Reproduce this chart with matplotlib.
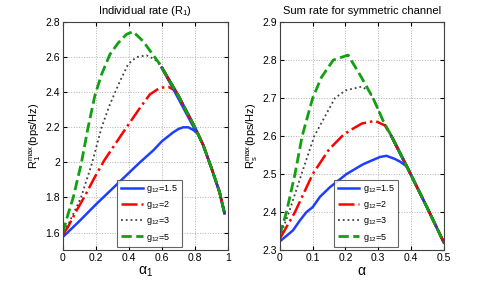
import matplotlib
matplotlib.use("Agg")
import matplotlib.pyplot as plt
from matplotlib.ticker import FuncFormatter

plt.rcParams['font.family'] = ['Liberation Sans', 'DejaVu Sans']
plt.rcParams['mathtext.fontset'] = 'custom'
plt.rcParams['mathtext.rm'] = 'Liberation Sans'
plt.rcParams['mathtext.it'] = 'Liberation Sans'

labels = ['g$_{12}$=1.5', 'g$_{12}$=2', 'g$_{12}$=3', 'g$_{12}$=5']

# ---- left panel: individual rate R1 vs alpha1 ----
# shared descending tail (all curves coincide here)
tail1_x = [0.6, 0.65, 0.7, 0.75, 0.8, 0.85, 0.9, 0.95, 0.98]
tail1_y = [2.54, 2.46, 2.38, 2.29, 2.2, 2.1, 1.97, 1.83, 1.71]

blue1_x = [0, 0.1, 0.2, 0.3, 0.4, 0.467, 0.55, 0.6, 0.667, 0.7, 0.73, 0.76, 0.79, 0.81]
blue1_y = [1.575, 1.665, 1.76, 1.85, 1.94, 2.0, 2.07, 2.12, 2.17, 2.19, 2.2, 2.2, 2.185, 2.17]
red1_x = [0, 0.03, 0.08, 0.14, 0.19, 0.25, 0.3, 0.35, 0.386, 0.467, 0.527, 0.588, 0.64, 0.68]
red1_y = [1.59, 1.63, 1.72, 1.82, 1.91, 2.01, 2.08, 2.15, 2.2, 2.31, 2.387, 2.425, 2.43, 2.41]
gray1_x = [0, 0.035, 0.07, 0.11, 0.175, 0.235, 0.285, 0.345, 0.396, 0.446, 0.507, 0.557, 0.58]
gray1_y = [1.61, 1.65, 1.72, 1.8, 1.99, 2.2, 2.33, 2.46, 2.56, 2.6, 2.61, 2.587, 2.565]
green1_x = [0, 0.03, 0.063, 0.113, 0.153, 0.194, 0.234, 0.285, 0.335, 0.386, 0.426, 0.487, 0.537, 0.588]
green1_y = [1.6, 1.7, 1.8, 2.0, 2.2, 2.38, 2.5, 2.615, 2.68, 2.73, 2.745, 2.69, 2.625, 2.56]

# ---- right panel: sum rate vs alpha ----
tail2_x = [0.34, 0.387, 0.45, 0.5]
tail2_y = [2.6, 2.52, 2.41, 2.32]

blue2_x = [0, 0.04, 0.061, 0.081, 0.1, 0.122, 0.152, 0.203, 0.254, 0.305, 0.325, 0.35, 0.366, 0.387]
blue2_y = [2.323, 2.352, 2.378, 2.4, 2.413, 2.44, 2.465, 2.5, 2.526, 2.545, 2.548, 2.54, 2.533, 2.52]
red2_x = [0, 0.046, 0.1, 0.15, 0.19, 0.21, 0.25, 0.29, 0.32]
red2_y = [2.33, 2.4, 2.5, 2.565, 2.6, 2.613, 2.633, 2.64, 2.628]
gray2_x = [0, 0.028, 0.066, 0.105, 0.168, 0.2, 0.249, 0.27, 0.284, 0.315]
gray2_y = [2.335, 2.4, 2.5, 2.6, 2.7, 2.72, 2.73, 2.72, 2.7, 2.64]
green2_x = [0, 0.02, 0.046, 0.068, 0.1, 0.127, 0.163, 0.208, 0.249, 0.284, 0.315]
green2_y = [2.34, 2.4, 2.5, 2.6, 2.7, 2.755, 2.8, 2.813, 2.754, 2.7, 2.64]

styles = [dict(color='#1f3fff', ls='-', lw=1.8),
          dict(color='#ff0000', ls='-.', lw=1.8),
          dict(color='#404040', ls=':', lw=1.3),
          dict(color='#10a010', ls='--', lw=2.0)]

fig = plt.figure(figsize=(4.91, 2.82), dpi=100)
ax1 = fig.add_axes([0.128, 0.113, 0.336, 0.809])
ax2 = fig.add_axes([0.570, 0.113, 0.334, 0.809])

def fmt(v, pos):
    return '%g' % round(v, 2)

left_series = [(blue1_x, blue1_y), (red1_x, red1_y), (gray1_x, gray1_y), (green1_x, green1_y)]
for (xs, ys), st, lab in zip(left_series, styles, labels):
    ax1.plot(xs + tail1_x, ys + tail1_y, label=lab, **st)
# redraw the common tail so it looks like the overlapping colours
for st in styles:
    ax1.plot(tail1_x, tail1_y, **st)

right_series = [(blue2_x, blue2_y), (red2_x, red2_y), (gray2_x, gray2_y), (green2_x, green2_y)]
for (xs, ys), st, lab in zip(right_series, styles, labels):
    ax2.plot(xs + tail2_x, ys + tail2_y, label=lab, **st)
for st in styles:
    ax2.plot(tail2_x, tail2_y, **st)

ax1.set_xlim(0, 1)
ax1.set_ylim(1.5, 2.8)
ax1.set_xticks([0, 0.2, 0.4, 0.6, 0.8, 1])
ax1.set_yticks([1.6, 1.8, 2.0, 2.2, 2.4, 2.6, 2.8])
ax1.set_title('Individual rate (R$_1$)', fontsize=8)
ax1.set_xlabel(r'$\alpha_1$', fontsize=10, labelpad=1)
ax1.set_ylabel(r'R$_1^{\max}$(bps/Hz)', fontsize=8, labelpad=2)

ax2.set_xlim(0, 0.5)
ax2.set_ylim(2.3, 2.9)
ax2.set_xticks([0, 0.1, 0.2, 0.3, 0.4, 0.5])
ax2.set_yticks([2.3, 2.4, 2.5, 2.6, 2.7, 2.8, 2.9])
ax2.set_title('Sum rate for symmetric channel', fontsize=8)
ax2.set_xlabel(r'$\alpha$', fontsize=10, labelpad=1)
ax2.set_ylabel(r'R$_s^{\max}$(bps/Hz)', fontsize=8, labelpad=2)

for ax in (ax1, ax2):
    ax.xaxis.set_major_formatter(FuncFormatter(fmt))
    ax.yaxis.set_major_formatter(FuncFormatter(fmt))
    ax.grid(True, ls=':', color='#b0b0b0', lw=0.7)
    ax.tick_params(direction='in', top=True, right=True, labelsize=7.5, length=3, pad=2)
    for sp in ax.spines.values():
        sp.set_color('#404040')
        sp.set_linewidth(0.8)
    leg = ax.legend(loc='lower left', bbox_to_anchor=(0.33, 0.013), fontsize=6.5,
                    handlelength=2.4, frameon=True, fancybox=False, borderpad=0.4,
                    labelspacing=0.45, handletextpad=0.4, borderaxespad=0)
    leg.get_frame().set_edgecolor('#404040')
    leg.get_frame().set_linewidth(0.8)

fig.savefig('out.png', dpi=100)
